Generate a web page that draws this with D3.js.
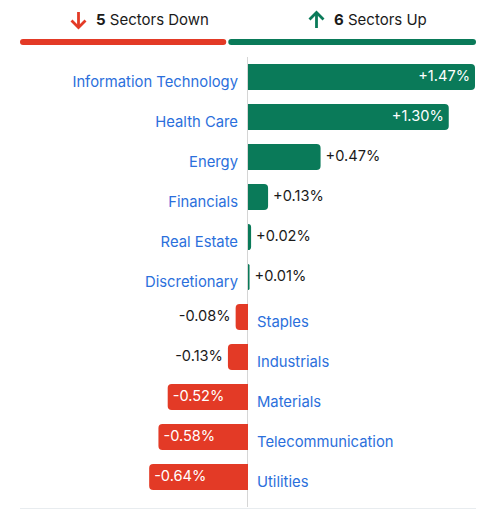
<!DOCTYPE html>
<html>
<head>
<meta charset="utf-8">
<script src="https://cdn.jsdelivr.net/npm/d3@7"></script>
<style>
    body { margin: 0; background: #fff; font-family: Inter, "Noto Sans", sans-serif; }
</style>
</head>
<body>
<div id="chart"></div>
<script>
var sectors = ["Information Technology", "Health Care", "Energy", "Financials", "Real Estate",
    "Discretionary", "Staples", "Industrials", "Materials", "Telecommunication", "Utilities"];
var changes = [1.47, 1.30, 0.47, 0.13, 0.02, 0.01, -0.08, -0.13, -0.52, -0.58, -0.64];
var summaryLabels = ["Sectors Down", "Sectors Up"];

var green = "#0a7a59";
var red = "#e33a26";
var blue = "#2b6fdc";

var width = 498, height = 510;

var svg = d3.select("#chart")
    .append("svg")
    .attr("width", width)
    .attr("height", height);

var nDown = changes.filter(function (d) { return d < 0; }).length;
var nUp = changes.filter(function (d) { return d > 0; }).length;

// summary bar on top
var sx = d3.scaleLinear().domain([0, nDown + nUp]).range([20, 476]);

svg.append("rect")
    .attr("x", sx(0)).attr("y", 39)
    .attr("width", sx(nDown) - sx(0) - 1).attr("height", 6)
    .attr("rx", 3)
    .attr("fill", red);

svg.append("rect")
    .attr("x", sx(nDown) + 1).attr("y", 39)
    .attr("width", sx(nDown + nUp) - sx(nDown) - 1).attr("height", 6)
    .attr("rx", 3)
    .attr("fill", green);

function header(cx, count, label, up) {
    var g = svg.append("g").attr("transform", "translate(" + cx + ",0)");
    var col = up ? green : red;
    // arrow
    var ay0 = up ? 28 : 12, ay1 = up ? 12.5 : 27.5;
    var dir = up ? 1 : -1;
    g.append("line")
        .attr("x1", 8.5).attr("x2", 8.5).attr("y1", ay0).attr("y2", ay1 + dir)
        .attr("stroke", col).attr("stroke-width", 2.8);
    g.append("path")
        .attr("d", "M1.5," + (ay1 + dir * 7) + " L8.5," + ay1 + " L15.5," + (ay1 + dir * 7))
        .attr("fill", "none").attr("stroke", col).attr("stroke-width", 2.8);
    var t = g.append("text")
        .attr("x", 26).attr("y", 25)
        .attr("font-size", 15)
        .attr("fill", "#1a1a1a");
    t.append("tspan").attr("font-weight", 700).text(count);
    t.append("tspan").text(" " + label);
}

header(70, nDown, summaryLabels[0], false);
header(308, nUp, summaryLabels[1], true);

// main chart
var y = d3.scaleBand()
    .domain(sectors)
    .range([57, 497])
    .paddingInner(0.35)
    .paddingOuter(0.175);

var x = d3.scaleLinear()
    .domain([0, 1.47])
    .range([248, 475]);

var x0 = x(0);

svg.append("line")
    .attr("x1", x0 - 0.5).attr("x2", x0 - 0.5)
    .attr("y1", 57).attr("y2", 507)
    .attr("stroke", "#d6d6d6").attr("stroke-width", 1);

svg.append("line")
    .attr("x1", 20).attr("x2", 476)
    .attr("y1", 508.5).attr("y2", 508.5)
    .attr("stroke", "#e8ecef").attr("stroke-width", 1);

function barPath(v, top, h) {
    var w = Math.abs(x(v) - x0);
    var r = Math.min(4, w);
    var s = v >= 0 ? 1 : -1;
    var e = x(v);
    return "M" + x0 + "," + top +
        " L" + (e - s * r) + "," + top +
        " Q" + e + "," + top + " " + e + "," + (top + r) +
        " L" + e + "," + (top + h - r) +
        " Q" + e + "," + (top + h) + " " + (e - s * r) + "," + (top + h) +
        " L" + x0 + "," + (top + h) + " Z";
}

var rows = svg.selectAll(".row")
    .data(sectors)
    .enter()
    .append("g")
    .attr("class", "row");

rows.append("path")
    .attr("d", function (d, i) {
        return barPath(changes[i], y(d), y.bandwidth());
    })
    .attr("fill", function (d, i) { return changes[i] >= 0 ? green : red; });

function fmt(v) {
    return (v >= 0 ? "+" : "-") + Math.abs(v).toFixed(2) + "%";
}

function inside(v) {
    return Math.abs(x(v) - x0) > 75;
}

rows.append("text")
    .attr("y", function (d) { return y(d) + y.bandwidth() / 2 + 4; })
    .attr("x", function (d, i) {
        var v = changes[i];
        if (v >= 0) return inside(v) ? x(v) - 5 : x(v) + 5;
        return inside(v) ? x(v) + 5 : x(v) - 5;
    })
    .attr("text-anchor", function (d, i) {
        var v = changes[i];
        return (v >= 0) === inside(v) ? "end" : "start";
    })
    .attr("font-size", 14.6)
    .attr("fill", function (d, i) { return inside(changes[i]) ? "#fff" : "#1a1a1a"; })
    .text(function (d, i) { return fmt(changes[i]); });

rows.append("text")
    .attr("y", function (d) { return y(d) + y.bandwidth() / 2 + 10; })
    .attr("x", function (d, i) { return changes[i] >= 0 ? x0 - 10 : x0 + 9; })
    .attr("text-anchor", function (d, i) { return changes[i] >= 0 ? "end" : "start"; })
    .attr("font-size", 14.8)
    .attr("fill", blue)
    .text(function (d) { return d; });
</script>
</body>
</html>
